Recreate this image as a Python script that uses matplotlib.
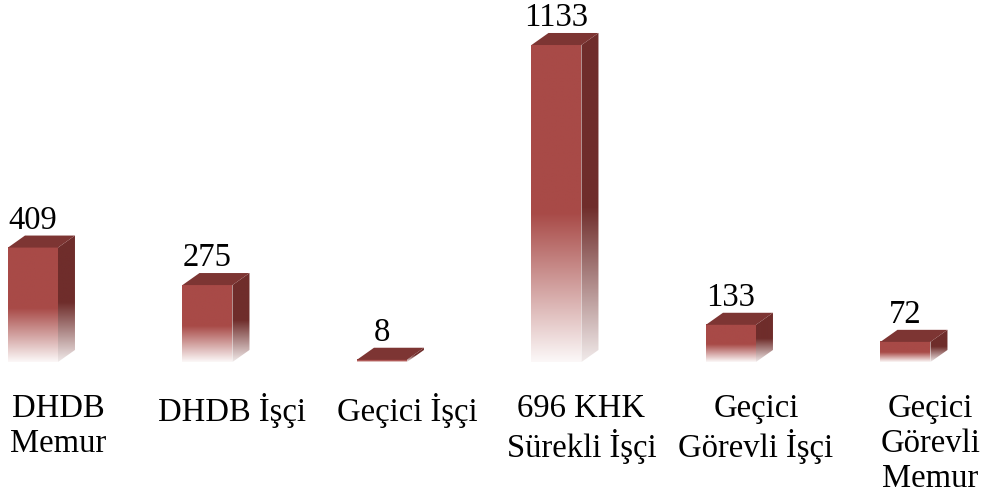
import matplotlib.pyplot as plt
import numpy as np
from matplotlib.colors import to_rgb
from matplotlib.patches import Polygon

categories = ['DHDB\nMemur', 'DHDB İşçi', 'Geçici İşçi',
              '696 KHK\nSürekli İşçi', 'Geçici\nGörevli İşçi',
              'Geçici\nGörevli\nMemur']
values = [409, 275, 8, 1133, 133, 72]

front_col = '#A84A47'
side_col = '#6F2D2B'
top_col = '#7D3533'

plt.rcParams['font.family'] = ['Liberation Serif', 'DejaVu Serif']

fig = plt.figure(figsize=(9.84, 4.97), dpi=100)
ax = fig.add_axes([0, 0, 1, 1])
ax.set_axis_off()

width = 0.2865
dx = 0.0974
dy = 43
fade = 0.47  # lower part of bar fades to white


def gradient(col, n=200, top=0.96):
    # rows from bottom (0) to top (n-1)
    c = np.array(to_rgb(col))
    h = np.linspace(0, 1, n)
    t = np.clip((fade - h) / fade, 0, 1) * top
    rgb = c[None, :] * (1 - t[:, None]) + t[:, None]
    return np.repeat(rgb[:, None, :], 2, axis=1)


for i, (cat, v) in enumerate(zip(categories, values)):
    x0 = i - width / 2
    x1 = i + width / 2

    # side face
    side = Polygon([(x1, 0), (x1 + dx, dy), (x1 + dx, v + dy), (x1, v)],
                   closed=True, facecolor='none', edgecolor='none')
    ax.add_patch(side)
    im = ax.imshow(gradient(side_col, top=0.9), extent=[x1 - 0.004, x1 + dx, 0, v + dy],
                   origin='lower', aspect='auto', interpolation='bilinear',
                   zorder=2)
    im.set_clip_path(side)

    # front face
    ax.imshow(gradient(front_col), extent=[x0, x1, 0, v], origin='lower',
              aspect='auto', interpolation='bilinear', zorder=2.5)

    # top face
    ax.add_patch(Polygon([(x0, v), (x0 + dx, v + dy), (x1 + dx, v + dy), (x1, v)],
                         closed=True, facecolor=top_col, edgecolor='none',
                         zorder=3))

    ax.text(i, v + dy + 25, str(v), ha='center', va='baseline', fontsize=23.5)
    ax.text(i + 0.143, -112, cat, ha='center', va='top', fontsize=23.5,
            linespacing=1.2)

ax.set_xlim(-0.189, 5.45)
ax.set_ylim(-482.5, 1293.9)

fig.savefig('out.png', dpi=100, facecolor='white')
